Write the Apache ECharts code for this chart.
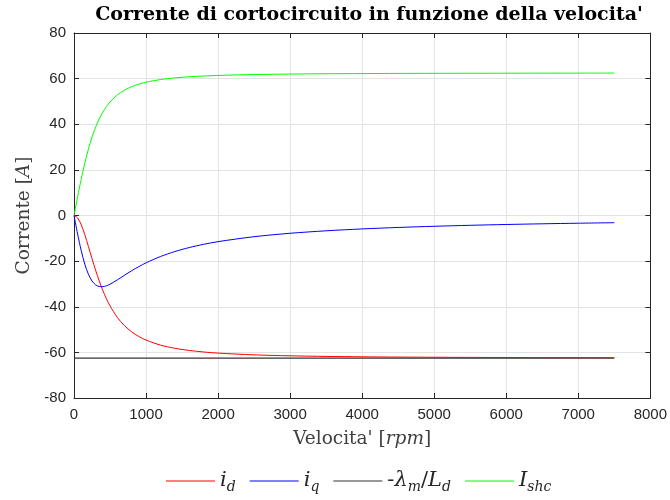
<!DOCTYPE html>
<html>
<head>
<meta charset="utf-8">
<script src="https://cdn.jsdelivr.net/npm/echarts@6/dist/echarts.min.js"></script>
<style>html,body{margin:0;padding:0;background:#fff}#c{width:670px;height:500px}</style>
</head>
<body>
<div id="c"></div>
<script>
var speed = [0,50,100,150,200,250,300,350,400,450,500,600,700,800,900,1000,1200,1400,1600,1800,2000,2500,3000,3500,4000,4500,5000,5500,6000,6500,7000,7500];
var id = [0,-1.06,-4.05,-8.43,-13.56,-18.88,-24.0,-28.69,-32.85,-36.48,-39.62,-44.61,-48.27,-50.99,-53.04,-54.61,-56.8,-58.21,-59.16,-59.83,-60.32,-61.09,-61.51,-61.77,-61.94,-62.06,-62.14,-62.2,-62.25,-62.29,-62.32,-62.34];
var iq = [0,-8.09,-15.38,-21.34,-25.76,-28.7,-30.4,-31.14,-31.21,-30.81,-30.11,-28.25,-26.21,-24.22,-22.4,-20.75,-17.99,-15.8,-14.05,-12.63,-11.46,-9.29,-7.79,-6.71,-5.88,-5.24,-4.72,-4.3,-3.94,-3.64,-3.38,-3.16];
var ishc = [0,8.16,15.91,22.95,29.11,34.35,38.73,42.34,45.31,47.75,49.76,52.8,54.93,56.46,57.58,58.42,59.58,60.32,60.81,61.15,61.4,61.79,62.0,62.14,62.22,62.28,62.32,62.35,62.37,62.4,62.41,62.42];
var lamLd = [-62.5,-62.5];
var lamX = [0,7500];
var seriesNames = ['id','iq','lam','ishc'];
var xTicks = [0,1000,2000,3000,4000,5000,6000,7000,8000];
var yTicks = [-80,-60,-40,-20,0,20,40,60,80];

function pairs(xs, ys){ return xs.map(function(x,i){ return [x, ys[i]]; }); }

var serif = '"DejaVu Serif", serif';
var sans = '"Liberation Sans", Arial, sans-serif';
var ink = '#262626';

var chart = echarts.init(document.getElementById('c'), null, {renderer:'canvas'});
var legendRich = {
  it: {fontFamily: serif, fontStyle:'italic', fontSize:21, color:ink, lineHeight:26, verticalAlign:'middle'},
  n: {fontFamily: serif, fontSize:21, color:ink, lineHeight:26, verticalAlign:'middle'},
  sub: {fontFamily: serif, fontStyle:'italic', fontSize:14, color:ink, lineHeight:15, verticalAlign:'bottom'}
};
var legendFmt = {
  id: '{it|i}{sub|d}',
  iq: '{it|i}{sub|q}',
  lam: '{n|-}{it|λ}{sub|m}{n|/}{it|L}{sub|d}',
  ishc: '{it|I}{sub|shc}'
};
var axisCommon = {
  axisLine:{show:true, onZero:false, lineStyle:{color:ink, width:1}},
  axisTick:{show:true, inside:true, length:5, lineStyle:{color:ink}},
  axisLabel:{color:ink, fontFamily:sans, fontSize:15},
  splitLine:{show:false}
};
var nameRich = {n:{fontFamily:serif, fontSize:18.5, color:'#404040'}, it:{fontFamily:serif, fontStyle:'italic', fontSize:18.5, color:'#404040'}};
chart.setOption({
  animation:false,
  backgroundColor:'#fff',
  title:{text:"Corrente di cortocircuito in funzione della velocita'", left:364, top:1, textAlign:'center',
    textStyle:{fontFamily:serif, fontWeight:'bold', fontSize:19, color:'#000'}},
  grid:{left:74, right:19, top:33, bottom:102, containLabel:false},
  legend:{
    data:seriesNames, bottom:1, left:161, icon:'rect', itemWidth:49, itemHeight:1.2, itemGap:14,
    formatter:function(n){ return legendFmt[n]; },
    textStyle:{rich:legendRich, padding:[0,0,0,0]}
  },
  xAxis:[
    Object.assign({}, axisCommon, {type:'value', min:0, max:8000, interval:1000, position:'bottom',
      name:"{n|Velocita' }{n|[}{it|rpm}{n|]}", nameLocation:'middle', nameGap:32,
      nameTextStyle:{rich:nameRich},
      axisLabel:{color:ink, fontFamily:sans, fontSize:15, margin:9, formatter:function(v){return String(v);}},
      splitLine:{show:true, lineStyle:{color:'#e3e3e3', width:1}}}),
    Object.assign({}, axisCommon, {type:'value', min:0, max:8000, interval:1000, position:'top', axisLabel:{show:false}})
  ],
  yAxis:[
    Object.assign({}, axisCommon, {type:'value', min:-80, max:80, interval:20, position:'left',
      name:"{n|Corrente }{n|[}{it|A}{n|]}", nameLocation:'middle', nameGap:40,
      nameTextStyle:{rich:nameRich},
      axisLabel:{color:ink, fontFamily:sans, fontSize:15, margin:8, formatter:function(v){return String(v);}},
      splitLine:{show:true, lineStyle:{color:'#e3e3e3', width:1}}}),
    Object.assign({}, axisCommon, {type:'value', min:-80, max:80, interval:20, position:'right', axisLabel:{show:false}})
  ],
  series:[
    {name:'lam', type:'line', data:pairs(lamX, lamLd), symbol:'none', lineStyle:{color:'#333333', width:1.2}, itemStyle:{color:'#333333'}, z:2},
    {name:'id', type:'line', data:pairs(speed, id), symbol:'none', smooth:0.3, lineStyle:{color:'#ff0000', width:1}, itemStyle:{color:'#ff0000'}, z:3},
    {name:'iq', type:'line', data:pairs(speed, iq), symbol:'none', smooth:0.3, lineStyle:{color:'#0000ff', width:1}, itemStyle:{color:'#0000ff'}, z:3},
    {name:'ishc', type:'line', data:pairs(speed, ishc), symbol:'none', smooth:0.3, lineStyle:{color:'#00ff00', width:1}, itemStyle:{color:'#00ff00'}, z:3}
  ]
});
</script>
</body>
</html>
